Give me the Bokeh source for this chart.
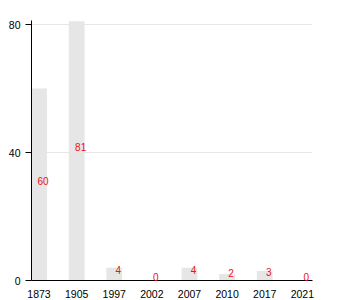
from bokeh.plotting import figure
from bokeh.models import Range1d, FixedTicker, ColumnDataSource
from bokeh.core.properties import value
from bokeh.embed import file_html
from bokeh.resources import INLINE

years = ["1873", "1905", "1997", "2002", "2007", "2010", "2017", "2021"]
counts = [60, 81, 4, 0, 4, 2, 3, 0]
y_ticks = [0, 40, 80]

xs = list(range(len(years)))
src = ColumnDataSource(dict(
    x=xs,
    top=counts,
    mid=[c / 2 for c in counts],
    label=[str(c) for c in counts],
))

p = figure(width=350, height=300, output_backend="svg", toolbar_location=None,
           x_range=Range1d(-0.2, 7.27), y_range=Range1d(0, 81.25),
           min_border_left=31, min_border_right=38, min_border_top=20,
           min_border_bottom=20)
p.outline_line_color = None
p.background_fill_color = "white"
p.border_fill_color = "white"

p.vbar(x="x", top="top", bottom=0, width=0.42, source=src,
       fill_color="#e6e6e6", line_color=None)
p.text(x="x", y="mid", text="label", source=src, x_offset=4, y_offset=-4,
       text_align="center", text_baseline="alphabetic",
       text_color="#ee1111", text_font=value("Liberation Sans"),
       text_font_size="10px", level="overlay")

p.xgrid.visible = False
p.ygrid.grid_line_color = "#e6e6e6"
p.ygrid.ticker = FixedTicker(ticks=y_ticks)

p.xaxis.ticker = FixedTicker(ticks=xs)
p.xaxis.major_label_overrides = {i: y for i, y in enumerate(years)}
p.xaxis.major_tick_line_color = None
p.xaxis.minor_tick_line_color = None
p.xaxis.major_label_standoff = 3

p.yaxis.ticker = FixedTicker(ticks=y_ticks)
p.yaxis.major_tick_out = 6
p.yaxis.major_tick_in = 0
p.yaxis.minor_tick_line_color = None
p.yaxis.major_label_standoff = 5
p.yaxis.major_tick_line_color = "black"

for ax in (p.xaxis, p.yaxis):
    ax.axis_line_color = "black"
    ax.major_label_text_font = "Liberation Sans"
    ax.major_label_text_font_size = "10.5px"
    ax.major_label_text_color = "black"

open("out.html", "w").write(file_html(p, INLINE))
